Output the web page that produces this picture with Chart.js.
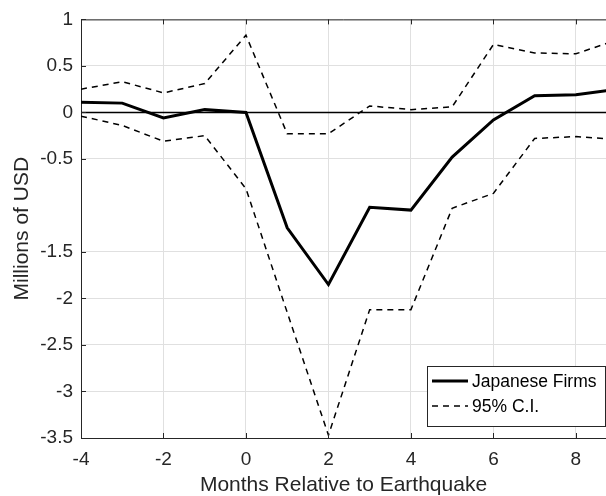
<!DOCTYPE html>
<html>
<head>
<meta charset="utf-8">
<script src="https://cdn.jsdelivr.net/npm/chart.js@4.4.1/dist/chart.umd.min.js"></script>
<style>
  html, body { margin: 0; padding: 0; background: #fff; }
  canvas { display: block; }
</style>
</head>
<body>
<canvas id="chart" width="606" height="496"></canvas>
<script>
// months relative to the earthquake (the last one lies past the visible edge)
const months = [-4, -3, -2, -1, 0, 1, 2, 3, 4, 5, 6, 7, 8, 9];
const japaneseFirms = [0.11, 0.10, -0.06, 0.03, 0.00, -1.24, -1.85, -1.02, -1.05, -0.48, -0.08, 0.18, 0.19, 0.25];
const ciUpper = [0.25, 0.33, 0.21, 0.31, 0.83, -0.23, -0.23, 0.07, 0.03, 0.06, 0.73, 0.64, 0.63, 0.78];
const ciLower = [-0.04, -0.14, -0.31, -0.25, -0.82, -2.15, -3.47, -2.12, -2.12, -1.03, -0.87, -0.28, -0.26, -0.29];

const xTicks = [-4, -2, 0, 2, 4, 6, 8];
const yTicks = [1, 0.5, 0, -0.5, -1.5, -2, -2.5, -3, -3.5];

const FONT = "'Liberation Sans', Arial, sans-serif";
const AXIS = '#262626';
const GRID = '#e0e0e0';
const DASH = [6, 5];

const toPoints = (vals) => months.map((m, i) => ({ x: m, y: vals[i] }));

// zero line, top border, inward tick marks, legend box
const decorations = {
  id: 'decorations',
  beforeDatasetsDraw(chart) {
    const { ctx, chartArea: a, scales: { y } } = chart;
    const y0 = y.getPixelForValue(0);
    ctx.save();
    ctx.strokeStyle = '#000';
    ctx.lineWidth = 1.5;
    ctx.beginPath();
    ctx.moveTo(a.left, y0);
    ctx.lineTo(a.right, y0);
    ctx.stroke();
    ctx.restore();
  },
  afterDraw(chart) {
    const { ctx, chartArea: a, scales: { x, y } } = chart;
    ctx.save();
    ctx.strokeStyle = AXIS;
    ctx.lineWidth = 1;
    ctx.beginPath();
    ctx.moveTo(a.left, a.top + 0.5);
    ctx.lineTo(a.right, a.top + 0.5);
    for (const v of xTicks) {
      const px = Math.round(x.getPixelForValue(v)) + 0.5;
      ctx.moveTo(px, a.bottom);
      ctx.lineTo(px, a.bottom - 5);
      ctx.moveTo(px, a.top);
      ctx.lineTo(px, a.top + 5);
    }
    for (const v of yTicks) {
      const py = Math.round(y.getPixelForValue(v)) + 0.5;
      ctx.moveTo(a.left, py);
      ctx.lineTo(a.left + 5, py);
    }
    ctx.stroke();

    // legend
    const bx = 427.5, by = 366.5, bw = 178, bh = 60;
    ctx.fillStyle = '#fff';
    ctx.fillRect(bx, by, bw, bh);
    ctx.strokeStyle = AXIS;
    ctx.lineWidth = 1;
    ctx.strokeRect(bx, by, bw, bh);

    const items = chart.data.datasets;
    const rows = [381, 406];
    items.slice(0, 2).forEach((ds, i) => {
      ctx.strokeStyle = '#000';
      ctx.lineWidth = ds.borderWidth;
      ctx.setLineDash(ds.borderDash || []);
      ctx.beginPath();
      ctx.moveTo(432, rows[i]);
      ctx.lineTo(468, rows[i]);
      ctx.stroke();
      ctx.setLineDash([]);
      ctx.fillStyle = '#000';
      ctx.font = '17.5px ' + FONT;
      ctx.textBaseline = 'middle';
      ctx.textAlign = 'left';
      ctx.fillText(ds.label, 472, rows[i] + 1);
    });
    ctx.restore();
  }
};

new Chart(document.getElementById('chart'), {
  type: 'line',
  data: {
    datasets: [
      {
        label: 'Japanese Firms',
        data: toPoints(japaneseFirms),
        borderColor: '#000',
        borderWidth: 3,
        pointRadius: 0,
        tension: 0
      },
      {
        label: '95% C.I.',
        data: toPoints(ciUpper),
        borderColor: '#000',
        borderWidth: 1.5,
        borderDash: DASH,
        pointRadius: 0,
        tension: 0
      },
      {
        label: '95% C.I. (lower)',
        data: toPoints(ciLower),
        borderColor: '#000',
        borderWidth: 1.5,
        borderDash: DASH,
        pointRadius: 0,
        tension: 0
      }
    ]
  },
  options: {
    responsive: false,
    animation: false,
    devicePixelRatio: 1,
    layout: { padding: { top: 19, right: 0, left: 0, bottom: 0 } },
    plugins: {
      legend: { display: false },
      tooltip: { enabled: false }
    },
    scales: {
      x: {
        type: 'linear',
        min: -4,
        max: 8.73,
        afterBuildTicks: (s) => { s.ticks = xTicks.map((v) => ({ value: v })); },
        afterFit: (s) => { s.height = 58; },
        ticks: {
          callback: (v) => String(v),
          color: AXIS,
          font: { family: FONT, size: 19 },
          padding: 10,
          maxRotation: 0
        },
        grid: { color: GRID, drawTicks: false },
        border: { color: AXIS, width: 1 },
        title: {
          display: true,
          text: 'Months Relative to Earthquake',
          color: AXIS,
          font: { family: FONT, size: 21, lineHeight: 1 },
          padding: { top: 0, bottom: 0 }
        }
      },
      y: {
        min: -3.5,
        max: 1,
        afterBuildTicks: (s) => { s.ticks = yTicks.map((v) => ({ value: v })); },
        afterFit: (s) => { s.width = 81; },
        ticks: {
          callback: (v) => String(v),
          color: AXIS,
          font: { family: FONT, size: 19 },
          padding: 8
        },
        grid: { color: GRID, drawTicks: false },
        border: { color: AXIS, width: 1 },
        title: {
          display: true,
          text: 'Millions of USD',
          color: AXIS,
          font: { family: FONT, size: 21, lineHeight: 1 },
          padding: { top: 12, bottom: 0 }
        }
      }
    }
  },
  plugins: [decorations]
});
</script>
</body>
</html>
